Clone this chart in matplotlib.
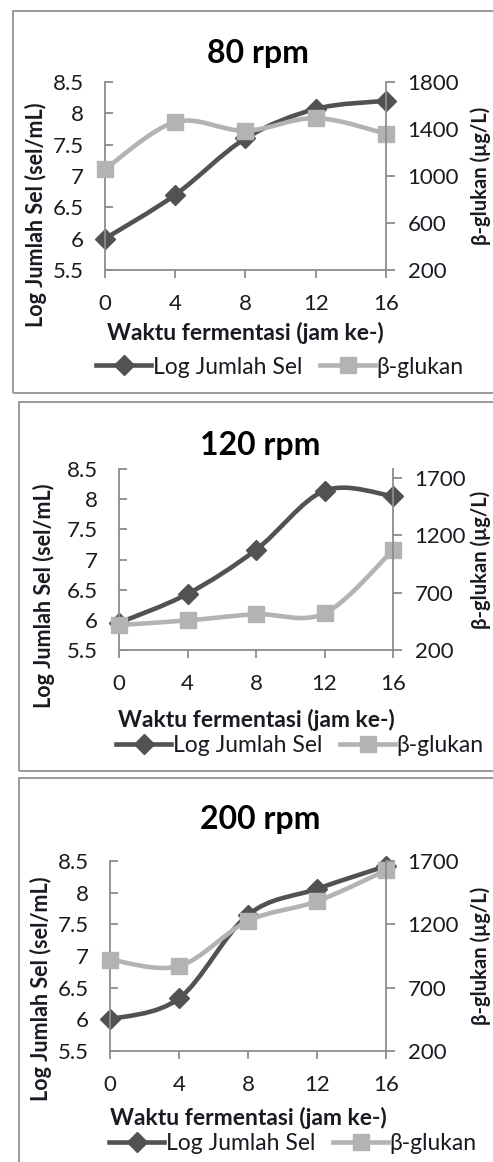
import matplotlib
matplotlib.use('Agg')
import matplotlib.pyplot as plt
from matplotlib.path import Path
from matplotlib.patches import PathPatch, Rectangle
from matplotlib.lines import Line2D

plt.rcParams['font.family'] = ['Lato', 'DejaVu Sans']

# data
hours = [0, 4, 8, 12, 16]
titles = ['80 rpm', '120 rpm', '200 rpm']
log_sel = [
    [6.00, 6.70, 7.60, 8.07, 8.20],
    [5.95, 6.43, 7.16, 8.14, 8.05],
    [6.00, 6.33, 7.65, 8.06, 8.42],
]
glukan = [
    [1058, 1459, 1385, 1493, 1360],
    [418, 458, 512, 520, 1072],
    [922, 870, 1227, 1382, 1626],
]
right_lims = [(200, 1800), (200, 1780), (200, 1700)]
right_ticks = [[200, 600, 1000, 1400, 1800], [200, 700, 1200, 1700], [200, 700, 1200, 1700]]
left_ticks = [5.5, 6, 6.5, 7, 7.5, 8, 8.5]
left_ticklabels = ['5.5', '6', '6.5', '7', '7.5', '8', '8.5']

xlabel = 'Waktu fermentasi (jam ke-)'
ylabel_left = 'Log Jumlah Sel (sel/mL)'
ylabel_right = 'β-glukan (µg/L)'
legend_labels = ['Log Jumlah Sel', 'β-glukan']

DARK = '#525252'
LIGHT = '#b3b3b3'
GRID = '#8c8c8c'
TXT = '#1a1a22'

W, H = 493, 1162
fig = plt.figure(figsize=(W / 100, H / 100), dpi=100)

# pixel layout of each panel: axes box, frame, title, legend, xlabel centre, ylabel centre
panels = [
    dict(ax=(105, 82, 386, 270), frame=(13, 10.5, 393), title=(258, 53), leg=(280, 367), xl=333, yl=(36, 215)),
    dict(ax=(119, 469, 393, 650), frame=(19, 402, 771), title=(260, 445), leg=(300, 746), xl=720, yl=(44, 596)),
    dict(ax=(110, 861, 386, 1051), frame=(19, 778, 1200), title=(260, 819), leg=(293, 1144), xl=1118, yl=(41, 989)),
]


def smooth_path(xs, ys, t=1 / 6):
    # excel-like smoothed line as cubic bezier segments through the data points
    n = len(xs)
    verts = [(xs[0], ys[0])]
    codes = [Path.MOVETO]
    for i in range(n - 1):
        p0 = (xs[max(i - 1, 0)], ys[max(i - 1, 0)])
        p1 = (xs[i], ys[i])
        p2 = (xs[i + 1], ys[i + 1])
        p3 = (xs[min(i + 2, n - 1)], ys[min(i + 2, n - 1)])
        c1 = (p1[0] + (p2[0] - p0[0]) * t, p1[1] + (p2[1] - p0[1]) * t)
        c2 = (p2[0] - (p3[0] - p1[0]) * t, p2[1] - (p3[1] - p1[1]) * t)
        verts += [c1, c2, p2]
        codes += [Path.CURVE4] * 3
    return Path(verts, codes)


for k, p in enumerate(panels):
    x0, y0, x1, y1 = p['ax']
    ax = fig.add_axes([x0 / W, 1 - y1 / H, (x1 - x0) / W, (y1 - y0) / H])
    ax2 = ax.twinx()

    # frame of the chart area
    fx, fy0, fy1 = p['frame']
    fig.add_artist(Rectangle((fx / W, 1 - fy1 / H), 1.2, (fy1 - fy0) / H,
                             transform=fig.transFigure, fill=False,
                             edgecolor='#9a9a9a', lw=1.4, clip_on=False))

    lw = 3.3
    ax.add_patch(PathPatch(smooth_path(hours, log_sel[k]), fill=False,
                           edgecolor=DARK, lw=lw, clip_on=False, capstyle='round'))
    ax.plot(hours, log_sel[k], ls='none', marker='D', ms=10.5, color=DARK, clip_on=False)
    ax2.add_patch(PathPatch(smooth_path(hours, glukan[k]), fill=False,
                            edgecolor=LIGHT, lw=lw, clip_on=False, capstyle='round'))
    ax2.plot(hours, glukan[k], ls='none', marker='s', ms=11, color=LIGHT, clip_on=False)

    ax.set_xlim(0, 16)
    ax.set_ylim(5.5, 8.5)
    ax2.set_ylim(*right_lims[k])
    ax.set_xticks(hours)
    ax.set_yticks(left_ticks)
    ax.set_yticklabels(left_ticklabels)
    ax2.set_yticks(right_ticks[k])

    for a in (ax, ax2):
        for s in a.spines.values():
            s.set_color(GRID)
            s.set_linewidth(1.3)
        a.spines['top'].set_visible(False)
    ax.spines['right'].set_visible(False)
    ax2.spines['left'].set_visible(False)
    ax2.spines['bottom'].set_visible(False)

    ax.tick_params(axis='x', direction='out', length=6, width=1.3, color=GRID,
                   pad=11, labelsize=16, labelcolor=TXT)
    ax.tick_params(axis='y', direction='in', length=6, width=1.3, color=GRID,
                   pad=15, labelsize=16, labelcolor=TXT)
    ax2.tick_params(axis='y', direction='out', length=6.5, width=1.3, color=GRID,
                    pad=9, labelsize=16, labelcolor=TXT)

    # axis titles placed at their pixel centres
    fig.text((x0 + x1) / 2 / W, 1 - p['xl'] / H, xlabel, fontsize=16.5,
             fontweight='bold', color=TXT, ha='center', va='center')
    fig.text(p['yl'][0] / W, 1 - p['yl'][1] / H, ylabel_left, fontsize=15.5,
             fontweight='bold', color=TXT, ha='center', va='center', rotation=90)
    fig.text(481 / W, 1 - (y0 + y1) / 2 / H, ylabel_right, fontsize=14.5,
             fontweight='bold', color=TXT, ha='center', va='center', rotation=90)

    fig.text(p['title'][0] / W, 1 - p['title'][1] / H, titles[k], fontsize=23,
             fontweight='bold', color='black', ha='center', va='center')

    handles = [
        Line2D([], [], color=DARK, lw=lw, marker='D', ms=10.5),
        Line2D([], [], color=LIGHT, lw=lw, marker='s', ms=11),
    ]
    fig.legend(handles, legend_labels, loc='center', ncol=2, frameon=False,
               bbox_to_anchor=(p['leg'][0] / W, 1 - p['leg'][1] / H),
               bbox_transform=fig.transFigure, fontsize=16.5, labelcolor=TXT,
               handlelength=2.4, handletextpad=0.05, columnspacing=0.8,
               borderpad=0, borderaxespad=0)

fig.savefig('out.png', dpi=100)
